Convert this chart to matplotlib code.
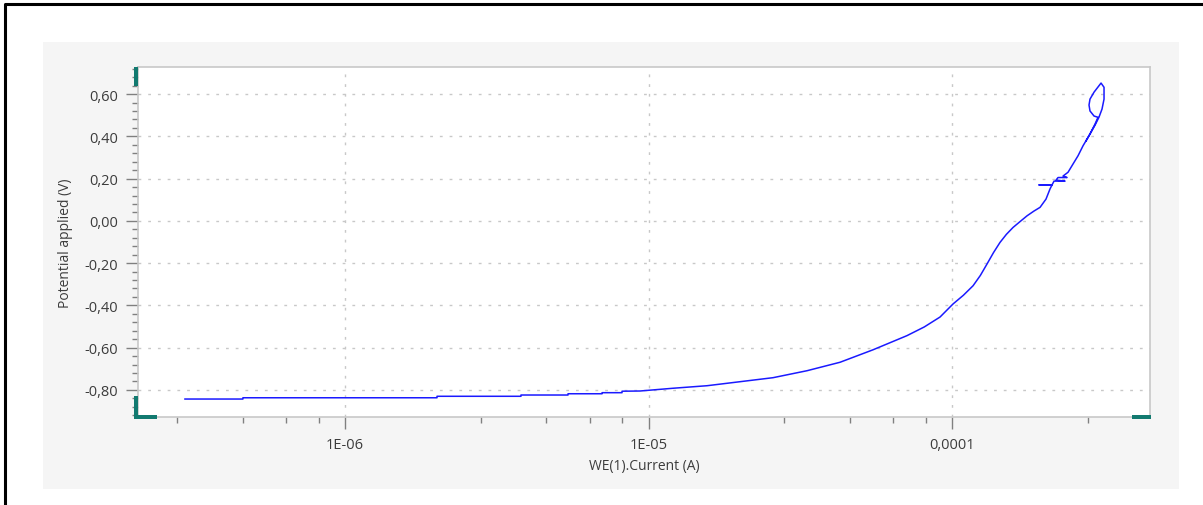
import numpy as np
import matplotlib
matplotlib.use('Agg')
import matplotlib.pyplot as plt
from matplotlib.ticker import FixedLocator, FixedFormatter, MultipleLocator, FuncFormatter
from matplotlib.patches import Rectangle
from matplotlib.lines import Line2D

plt.rcParams['font.family'] = ['Open Sans', 'DejaVu Sans']

# Polarisation curve: current (A) and applied potential (V)
current_A = [2.97e-7, 4.61e-7, 4.61e-7, 2.01e-6, 2.01e-6, 3.80e-6, 3.80e-6, 5.43e-6,
             5.43e-6, 7.03e-6, 7.03e-6, 8.18e-6, 8.18e-6, 9.38e-6, 1.204e-5, 1.559e-5,
             2.002e-5, 2.572e-5, 3.329e-5, 4.276e-5, 5.492e-5, 7.107e-5, 8.10e-5, 9.13e-5,
             1.008e-4, 1.09e-4, 1.173e-4, 1.24e-4, 1.304e-4, 1.37e-4, 1.439e-4, 1.51e-4,
             1.589e-4, 1.68e-4, 1.767e-4, 1.86e-4, 1.950e-4, 2.040e-4, 2.103e-4,
             2.135e-4, 1.935e-4, 2.135e-4, 2.168e-4, 2.357e-4, 2.201e-4, 2.235e-4, 2.393e-4,
             2.321e-4, 2.411e-4, 2.504e-4, 2.601e-4, 2.701e-4, 2.848e-4, 2.959e-4, 3.027e-4,
             2.937e-4, 2.848e-4, 2.827e-4, 2.848e-4, 2.937e-4, 3.097e-4, 3.168e-4, 3.168e-4,
             3.120e-4, 3.050e-4, 2.959e-4, 2.848e-4, 2.763e-4]
potential_V = [-0.843, -0.843, -0.837, -0.837, -0.830, -0.830, -0.824, -0.824,
               -0.818, -0.818, -0.813, -0.813, -0.806, -0.805, -0.792, -0.780,
               -0.761, -0.742, -0.709, -0.669, -0.610, -0.543, -0.502, -0.455,
               -0.393, -0.352, -0.307, -0.258, -0.204, -0.150, -0.102, -0.064,
               -0.031, -0.002, 0.024, 0.046, 0.064, 0.103, 0.151,
               0.170, 0.170, 0.170, 0.188, 0.188, 0.193, 0.205, 0.205,
               0.212, 0.230, 0.269, 0.308, 0.355, 0.411, 0.458, 0.490,
               0.496, 0.520, 0.548, 0.576, 0.609, 0.652, 0.632, 0.576,
               0.529, 0.491, 0.453, 0.411, 0.378]

x_major = [1e-6, 1e-5, 1e-4]
x_major_labels = ['1E-06', '1E-05', '0,0001']
x_minor = [m * d for d in [1e-7, 1e-6, 1e-5, 1e-4] for m in [2.8, 4.6, 6.4, 8.2]]

W, H = 1203, 506
fig = plt.figure(figsize=(W / 100, H / 100), dpi=100)
fig.patch.set_facecolor('white')


def fx(x):
    return x / W


def fy(y):
    return 1 - y / H


# grey panel behind the chart
fig.add_artist(Rectangle((fx(43), fy(490)), fx(1179) - fx(43), fy(43) - fy(490),
                         transform=fig.transFigure, facecolor='#f5f5f5', edgecolor='none', zorder=0))
# black frame lines (top and left)
fig.add_artist(Line2D([fx(5), fx(5), 1.0], [0.0, fy(5), fy(5)], transform=fig.transFigure,
                      color='black', lw=2.2))

ax = fig.add_axes([fx(138), fy(418), fx(1150) - fx(138), fy(68) - fy(418)])
ax.set_facecolor('white')
ax.plot(current_A, potential_V, color='#1a1aff', lw=1.1)

ax.set_xscale('log')
ax.set_xlim(2.08e-7, 4.49e-4)
ax.set_ylim(-0.928, 0.728)

ax.xaxis.set_major_locator(FixedLocator(x_major))
ax.xaxis.set_major_formatter(FixedFormatter(x_major_labels))
ax.xaxis.set_minor_locator(FixedLocator(x_minor))
ax.xaxis.set_minor_formatter(FixedFormatter([''] * len(x_minor)))

ax.yaxis.set_major_locator(MultipleLocator(0.2))
ax.yaxis.set_minor_locator(MultipleLocator(0.04))
ax.yaxis.set_major_formatter(FuncFormatter(lambda v, p: ('%.2f' % v).replace('.', ',').replace('-0,00', '0,00')))

for s in ax.spines.values():
    s.set_color('#c8c8c8')
    s.set_linewidth(1.2)

ax.tick_params(which='major', length=8.5, width=1, color='#808080', labelsize=10.5,
               labelcolor='#3c3c3c', pad=6)
ax.tick_params(which='minor', length=4, width=1, color='#808080')
ax.grid(True, which='major', color='#c8c8c8', linestyle=(0, (2, 5)), lw=1)

ax.set_xlabel('WE(1).Current (A)', fontsize=10, color='#3c3c3c', labelpad=4)
ax.set_ylabel('Potential applied (V)', fontsize=10, color='#3c3c3c', labelpad=8)

# teal scroll handles of the axes
teal = '#127a70'
for (x0, y0, x1, y1) in [(134, 68, 138, 87), (134, 397, 138, 420), (138, 416, 157, 420),
                         (1132, 416, 1151, 420)]:
    fig.add_artist(Rectangle((fx(x0), fy(y1)), fx(x1) - fx(x0), fy(y0) - fy(y1),
                             transform=fig.transFigure, facecolor=teal, edgecolor='none', zorder=5))

fig.savefig('out.png', dpi=100)
